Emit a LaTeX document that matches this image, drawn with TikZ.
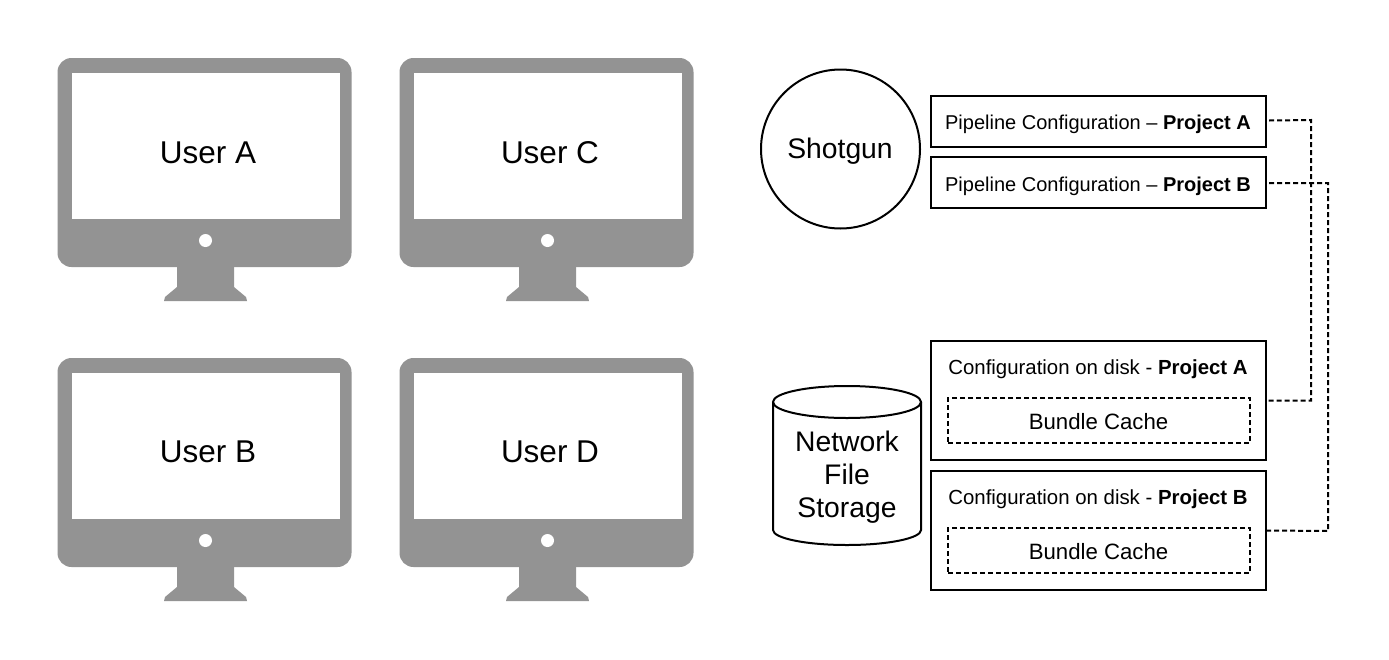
\documentclass[tikz,border=0pt]{standalone}
\usepackage{fontspec}
\setmainfont{Liberation Sans}
\newcommand{\monitor}[5]{%
  \begin{scope}[shift={(#1,#2)}]
    \fill[mongray,rounded corners=14] (57.5,58) rectangle (351.5,267);
    \fill[mongray] (177,260) -- (234,260) -- (234,287) -- (246,297) -- (247,301) -- (164,301) -- (165,297) -- (177,287) -- cycle;
    \fill[white] (72,73) rectangle (339.8,219);
    \fill[white] (205.5,240.5) circle (6.5);
    \node[biglabel] (#3) at (208,#5) {#4};
  \end{scope}}
\begin{document}
\begin{tikzpicture}[x=1pt,y=-1pt,
  mongray/.style={color={rgb,255:red,147;green,147;blue,147}},
  biglabel/.style={font=\fontsize{31.5}{36}\selectfont,inner sep=0pt},
  midlabel/.style={font=\fontsize{28.3}{33}\selectfont,inner sep=0pt,align=center},
  pipelabel/.style={font=\fontsize{20}{24}\selectfont,inner sep=0pt},
  disklabel/.style={font=\fontsize{20.4}{24}\selectfont,inner sep=0pt},
  cachelabel/.style={font=\fontsize{22.2}{26}\selectfont,inner sep=0pt},
  box/.style={draw=black,line width=2pt,minimum width=335pt,inner sep=0pt},
  cachebox/.style={draw=black,line width=2pt,dash pattern=on 5pt off 3pt,minimum width=302pt,minimum height=45pt,inner sep=0pt},
  link/.style={draw=black,line width=2pt,dash pattern=on 5pt off 3pt}]
\useasboundingbox (0,0) rectangle (1389,659);
\fill[white] (0,0) rectangle (1389,659);
\monitor{0}{0}{ua}{User A}{153}
\monitor{342}{0}{uc}{User C}{153}
\monitor{0}{300}{ub}{User B}{152}
\monitor{342}{300}{ud}{User D}{152}
% Shotgun
\node[draw=black,line width=2pt,circle,minimum size=159pt,inner sep=0pt] (sg) at (840.5,149) {};
\node[midlabel] (sgt) at (840,151) {Shotgun};
% Storage
\draw[line width=2pt,fill=white] (773,402) -- (773,530) arc[start angle=180,end angle=360,x radius=74,y radius=-15] -- (921,402);
\draw[line width=2pt] (847,402) ellipse[x radius=74,y radius=16];
\node[midlabel] (nfs) at (847,477) {Network\\[0pt]File\\[0pt]Storage};
% Pipeline configurations
\node[box,minimum height=51pt] (pa) at (1098.5,121.5) {};
\node[box,minimum height=51pt] (pb) at (1098.5,182.5) {};
\node[pipelabel] (pat) at (1098,124.5) {Pipeline Configuration – \textbf{Project A}};
\node[pipelabel] (pbt) at (1098,186.5) {Pipeline Configuration – \textbf{Project B}};
% Disk configurations
\node[box,minimum height=119pt] (ca) at (1098.5,400.5) {};
\node[box,minimum height=119pt] (cb) at (1098.5,530.5) {};
\node[disklabel] (cat) at (1098,369.5) {Configuration on disk - \textbf{Project A}};
\node[disklabel] (cbt) at (1098,499.5) {Configuration on disk - \textbf{Project B}};
\node[cachebox] (ba) at (1099,420.5) {};
\node[cachebox] (bb) at (1099,550.5) {};
\node[cachelabel] (bat) at (1098.5,421.5) {Bundle Cache};
\node[cachelabel] (bbt) at (1098.5,551.5) {Bundle Cache};
% Connectors
\coordinate (ja) at (1311,120);
\coordinate (jb) at (1328,183);
\path[link] (pa.east) ++(2,-1) -- (ja) -- (ja |- ca.east) -- (ca.east);
\path[link] (pb.east) ++(2,0.5) -- (jb) -- (jb |- 0,531) -- (cb.east);
\end{tikzpicture}
\end{document}
